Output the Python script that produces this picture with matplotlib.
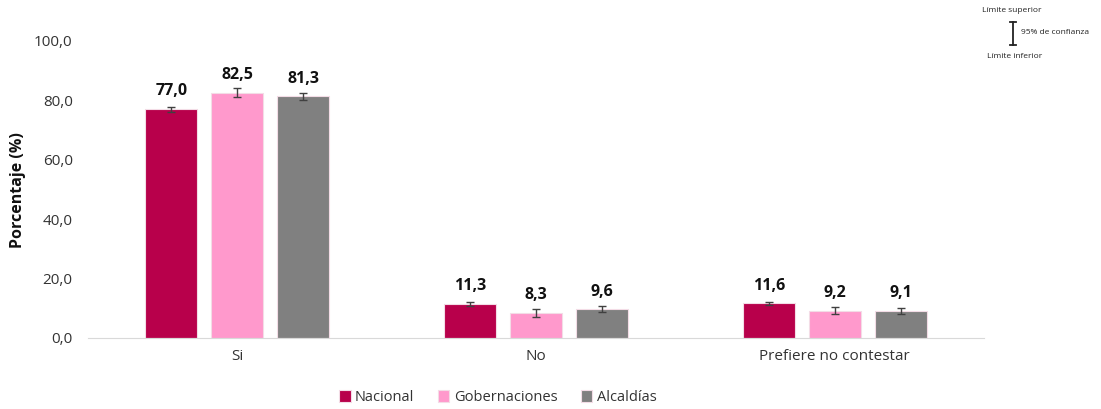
import matplotlib
matplotlib.use("Agg")
import matplotlib.pyplot as plt
import numpy as np

plt.rcParams['font.family'] = ['Open Sans', 'DejaVu Sans']

categories = ["Si", "No", "Prefiere no contestar"]
series_names = ["Nacional", "Gobernaciones", "Alcaldías"]
nacional = [77.0, 11.3, 11.6]
gobernaciones = [82.5, 8.3, 9.2]
alcaldias = [81.3, 9.6, 9.1]
err_nacional = [0.8, 0.6, 0.5]
err_gobernaciones = [1.5, 1.3, 1.2]
err_alcaldias = [1.3, 1.0, 1.0]
colors = ["#B8004B", "#FF99CC", "#808080"]
yticks = [0, 20, 40, 60, 80, 100]

fig = plt.figure(figsize=(11.01, 4.09), dpi=100)
ax = fig.add_axes([88/1101, 0.174, 896/1101, 0.726])

x = np.arange(len(categories))
width = 0.174
offset = 0.221
all_vals = [nacional, gobernaciones, alcaldias]
all_err = [err_nacional, err_gobernaciones, err_alcaldias]
for i, (vals, errs, c, name) in enumerate(zip(all_vals, all_err, colors, series_names)):
    pos = x + (i - 1) * offset
    ax.bar(pos, vals, width, color=c, edgecolor="#f3dce6", linewidth=0.8, label=name, zorder=2)
    ax.errorbar(pos, vals, yerr=errs, fmt="none", ecolor="#404040", elinewidth=1, capsize=3, capthick=1, zorder=3)
    for p, v in zip(pos, vals):
        ax.text(p, v + 6.0, f"{v:.1f}".replace(".", ","), ha="center", va="center",
                fontsize=11.5, fontweight="bold", color="#111111")

ax.set_ylim(0, 100)
ax.set_xlim(-0.5, 2.5)
ax.set_yticks(yticks)
ax.set_yticklabels([f"{t:.1f}".replace(".", ",") for t in yticks], fontsize=11, color="#333333")
ax.set_xticks(x)
ax.set_xticklabels(categories, fontsize=11, color="#333333")
ax.tick_params(axis="y", length=0, pad=11)
ax.tick_params(axis="x", length=0, pad=8)
for s in ["top", "right", "left"]:
    ax.spines[s].set_visible(False)
ax.spines["bottom"].set_color("#d9d9d9")

fig.text(18/1101, 1 - 190/409, "Porcentaje (%)", rotation=90, fontsize=11.5, fontweight="bold",
         color="#111111", ha="center", va="center")

leg = fig.legend(loc="center", bbox_to_anchor=(0.452, 0.028), ncol=3, frameon=False,
                 fontsize=10.5, handlelength=0.8, handleheight=0.8, handletextpad=0.3, columnspacing=1.6)
for t in leg.get_texts():
    t.set_color("#333333")

# confidence interval key
fig.text(1012/1101, 1 - 11/409, "Límite superior", fontsize=6, ha="center", va="center", color="#222222")
fig.text(1015/1101, 1 - 56/409, "Límite inferior", fontsize=6, ha="center", va="center", color="#222222")
fig.text(1021/1101, 1 - 33/409, "95% de confianza", fontsize=6, ha="left", va="center", color="#222222")
kx = 1013/1101
fig.add_artist(plt.Line2D([kx, kx], [1 - 22/409, 1 - 45/409], color="#222222", lw=1.3))
fig.add_artist(plt.Line2D([kx - 3/1101, kx + 3/1101], [1 - 22/409, 1 - 22/409], color="#222222", lw=1.3))
fig.add_artist(plt.Line2D([kx - 3/1101, kx + 3/1101], [1 - 45/409, 1 - 45/409], color="#222222", lw=1.3))

fig.savefig("out.png", dpi=100)
